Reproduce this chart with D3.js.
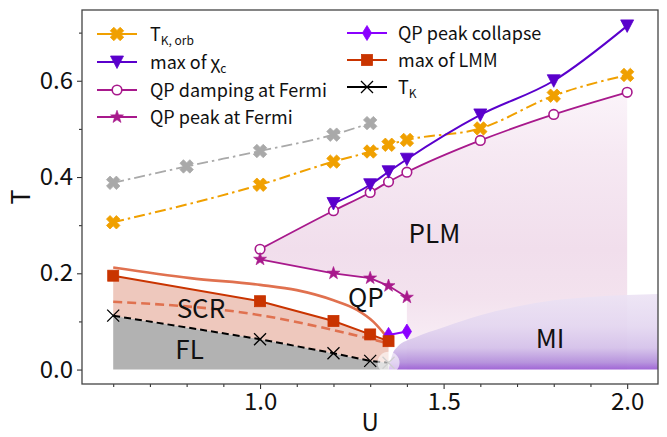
<!DOCTYPE html>
<html>
<head>
<meta charset="utf-8">
<script src="https://cdn.jsdelivr.net/npm/d3@7"></script>
<style>
html, body { margin: 0; padding: 0; background: #fff; }
svg { display: block; font-family: "Noto Sans CJK KR", "Noto Sans", sans-serif; }
</style>
</head>
<body>
<svg id="chart" width="667" height="437"></svg>
<script>
// ---- phase-diagram data (U, T) ----
const U_orbGray = [0.6, 0.8, 1.0, 1.2, 1.3];
const T_orbGray = [0.388, 0.422, 0.454, 0.488, 0.512];

const U_orb = [0.6, 1.0, 1.2, 1.3, 1.35, 1.4, 1.6, 1.8, 2.0];
const T_orb = [0.306, 0.384, 0.432, 0.453, 0.467, 0.477, 0.501, 0.569, 0.612];

const U_chi = [1.2, 1.3, 1.35, 1.4, 1.6, 1.8, 2.0];
const T_chi = [0.345, 0.384, 0.411, 0.437, 0.529, 0.600, 0.714];

const U_damp = [1.0, 1.2, 1.3, 1.35, 1.4, 1.6, 1.8, 2.0];
const T_damp = [0.250, 0.330, 0.368, 0.390, 0.410, 0.476, 0.530, 0.576];

const U_peak = [1.0, 1.2, 1.3, 1.35, 1.4];
const T_peak = [0.229, 0.200, 0.190, 0.174, 0.150];

const U_collapse = [1.35, 1.4];
const T_collapse = [0.072, 0.079];

const U_lmm = [0.6, 1.0, 1.2, 1.3, 1.35];
const T_lmm = [0.195, 0.142, 0.101, 0.073, 0.059];

const U_tk = [0.6, 1.0, 1.2, 1.3, 1.35];
const T_tk = [0.112, 0.063, 0.034, 0.018, 0.014];

// upper edge of the SCR crossover and its midline
const U_scrTop = [0.6, 0.81, 1.0, 1.1, 1.2, 1.264, 1.309, 1.345];
const T_scrTop = [0.212, 0.190, 0.176, 0.165, 0.144, 0.124, 0.099, 0.068];
const U_scrMid = [0.6, 1.0, 1.2, 1.34];
const T_scrMid = [0.141, 0.113, 0.082, 0.056];

// Mott-insulator boundary
const U_mi = [1.35, 1.36, 1.375, 1.42, 1.5, 1.6, 1.7, 1.8, 1.9, 2.0, 2.085];
const T_mi = [0.0, 0.030, 0.048, 0.066, 0.088, 0.113, 0.131, 0.144, 0.151, 0.155, 0.157];

const xTicks = [1.0, 1.5, 2.0];
const yTicks = [0.0, 0.2, 0.4, 0.6];

const regionLabels = [
  { text: "PLM", u: 1.475, t: 0.287 },
  { text: "QP", u: 1.288, t: 0.153 },
  { text: "SCR", u: 0.839, t: 0.130 },
  { text: "FL", u: 0.808, t: 0.045 },
  { text: "MI", u: 1.79, t: 0.068 }
];

// ---- colours ----
const C = {
  orb: "#f0a000", orbGray: "#a9a9a9", chi: "#5a00cc", damp: "#a8198c",
  collapse: "#8a00ff", lmm: "#c93400", scrLine: "#e0714f", tk: "#000000",
  fl: "#b2b2b2", scr: "#eec8bd"
};

const zip = (us, ts) => us.map((u, i) => [u, ts[i]]);

const svg = d3.select("#chart");
const x = d3.scaleLinear().domain([0.515, 2.084]).range([82, 658]);
const y = d3.scaleLinear().domain([-0.030, 0.747]).range([384, 10]);

const defs = svg.append("defs");
defs.append("clipPath").attr("id", "plotClip")
  .append("rect").attr("x", 82).attr("y", 10).attr("width", 576).attr("height", 374);

const plmGrad = defs.append("linearGradient").attr("id", "plmGrad")
  .attr("gradientUnits", "userSpaceOnUse")
  .attr("x1", 0).attr("x2", 0).attr("y1", y(0)).attr("y2", y(0.6));
[[0, "#fbf3f9"], [0.15, "#f3e2ee"], [0.25, "#f1deec"], [0.45, "#f6e9f3"], [0.6, "#fcf6fb"]]
  .forEach(([t, c]) => plmGrad.append("stop").attr("offset", t / 0.6).attr("stop-color", c));

const miGrad = defs.append("linearGradient").attr("id", "miGrad")
  .attr("gradientUnits", "userSpaceOnUse")
  .attr("x1", 0).attr("x2", 0).attr("y1", y(0)).attr("y2", y(0.157));
[[0, "#9656d2"], [0.015, "#b08ada"], [0.045, "#d3bfe9"], [0.09, "#e3d6f0"], [0.157, "#ece3f4"]]
  .forEach(([t, c]) => miGrad.append("stop").attr("offset", t / 0.157).attr("stop-color", c));

const plot = svg.append("g").attr("clip-path", "url(#plotClip)");

const lineLin = d3.line().x(d => x(d[0])).y(d => y(d[1]));
const lineSmooth = d3.line().x(d => x(d[0])).y(d => y(d[1])).curve(d3.curveMonotoneX);

// ---- filled regions ----
// PLM: below the QP-damping line, right of the QP region
const dampPts = zip(U_damp, T_damp);
const peakPts = zip(U_peak, T_peak);
const plmPath = lineSmooth(dampPts) +
  `L${x(2.0)},${y(0)}L${x(1.4)},${y(0)}` +
  lineLin(peakPts.slice().reverse()).replace(/^M/, "L") + "Z";
plot.append("path").attr("d", plmPath).attr("fill", "url(#plmGrad)");

// MI
plot.append("path")
  .attr("d", d3.area().x(d => x(d[0])).y0(y(0)).y1(d => y(d[1])).curve(d3.curveMonotoneX)(zip(U_mi, T_mi)))
  .attr("fill", "url(#miGrad)").attr("opacity", 0.9);

// FL and SCR
const tkPts = zip(U_tk, T_tk);
plot.append("path")
  .attr("d", d3.area().x(d => x(d[0])).y0(y(0)).y1(d => y(d[1]))(tkPts))
  .attr("fill", C.fl);
plot.append("path")
  .attr("d", d3.area().x((d, i) => x(U_tk[i])).y0((d, i) => y(T_tk[i])).y1((d, i) => y(T_lmm[i]))(U_tk))
  .attr("fill", C.scr);

// ---- marker shapes ----
function xFilledPath(r) {
  const w = 0.36;
  const pts = [[-w, -1], [w, -1], [w, -w], [1, -w], [1, w], [w, w], [w, 1], [-w, 1], [-w, w], [-1, w], [-1, -w], [-w, -w]];
  const c = Math.SQRT1_2;
  return "M" + pts.map(([a, b]) => [(a - b) * c * r, (a + b) * c * r].map(v => v.toFixed(2)).join(",")).join("L") + "Z";
}
function starPath(R) {
  const r = R * 0.4, pts = [];
  for (let i = 0; i < 10; i++) {
    const ang = -Math.PI / 2 + i * Math.PI / 5, rr = i % 2 ? r : R;
    pts.push([rr * Math.cos(ang), rr * Math.sin(ang)]);
  }
  return "M" + pts.map(p => p.map(v => v.toFixed(2)).join(",")).join("L") + "Z";
}
const markers = {
  xfill: (g, c) => g.append("path").attr("d", xFilledPath(7)).attr("fill", c).attr("stroke", c).attr("stroke-width", 0.8),
  triDown: (g, c) => g.append("path").attr("d", "M-6.5,-6L6.5,-6L0,6.5Z").attr("fill", c).attr("stroke", c).attr("stroke-width", 0.8),
  circleOpen: (g, c) => g.append("circle").attr("r", 4.8).attr("fill", "#fff").attr("stroke", c).attr("stroke-width", 1.6),
  star: (g, c) => g.append("path").attr("d", starPath(6.8)).attr("fill", c).attr("stroke", c).attr("stroke-width", 0.6),
  diamond: (g, c) => g.append("path").attr("d", "M0,-7.5L4.6,0L0,7.5L-4.6,0Z").attr("fill", c).attr("stroke", c).attr("stroke-width", 0.8),
  square: (g, c) => g.append("rect").attr("x", -5.5).attr("y", -5.5).attr("width", 11).attr("height", 11).attr("fill", c).attr("stroke", c).attr("stroke-width", 0.8),
  xThin: (g, c) => g.append("path").attr("d", "M-6,-6L6,6M-6,6L6,-6").attr("fill", "none").attr("stroke", c).attr("stroke-width", 1.3)
};

function drawSeries(pts, opt) {
  const gen = opt.smooth ? lineSmooth : lineLin;
  plot.append("path").attr("d", gen(pts)).attr("fill", "none")
    .attr("stroke", opt.color).attr("stroke-width", opt.width || 2)
    .attr("stroke-dasharray", opt.dash || null);
  if (opt.marker) {
    pts.forEach(p => {
      const g = plot.append("g").attr("transform", `translate(${x(p[0])},${y(p[1])})`);
      markers[opt.marker](g, opt.color);
    });
  }
}

// SCR boundary curves
drawSeries(zip(U_scrTop, T_scrTop), { color: C.scrLine, width: 2.6, smooth: true });
drawSeries(zip(U_scrMid, T_scrMid), { color: C.scrLine, width: 2.6, smooth: true, dash: "9,5" });

// T_K (last point faded under the crossing spot)
plot.append("path").attr("d", lineLin(tkPts)).attr("fill", "none")
  .attr("stroke", C.tk).attr("stroke-width", 2).attr("stroke-dasharray", "7,4");
tkPts.forEach((p, i) => {
  const g = plot.append("g").attr("transform", `translate(${x(p[0])},${y(p[1])})`);
  markers.xThin(g, i === tkPts.length - 1 ? "#888" : C.tk);
});
plot.append("circle").attr("cx", x(1.35)).attr("cy", y(0.014)).attr("r", 11)
  .attr("fill", "#fff").attr("opacity", 0.6);

drawSeries(zip(U_orbGray, T_orbGray), { color: C.orbGray, width: 1.8, smooth: true, dash: "11,4,2.5,4", marker: "xfill" });
drawSeries(zip(U_orb, T_orb), { color: C.orb, width: 2, smooth: true, dash: "11,4,2.5,4", marker: "xfill" });
drawSeries(dampPts, { color: C.damp, width: 1.8, smooth: true, marker: "circleOpen" });
drawSeries(zip(U_chi, T_chi), { color: C.chi, width: 2, smooth: true, marker: "triDown" });
drawSeries(peakPts, { color: C.damp, width: 1.8, marker: "star" });
drawSeries(zip(U_collapse, T_collapse), { color: C.collapse, width: 2, smooth: true, marker: "diamond" });
drawSeries(zip(U_lmm, T_lmm), { color: C.lmm, width: 2, marker: "square" });

// region names
svg.append("g").selectAll("text").data(regionLabels).join("text")
  .attr("x", d => x(d.u)).attr("y", d => y(d.t))
  .attr("text-anchor", "middle").attr("dominant-baseline", "central")
  .attr("font-size", 26).attr("fill", "#111").text(d => d.text);

// ---- axes ----
const tickColor = "#333";
const xAxis = svg.append("g").attr("transform", "translate(0,384)")
  .call(d3.axisBottom(x).tickValues(xTicks).tickFormat(d3.format(".1f")).tickSize(5).tickPadding(4));
const xMinor = svg.append("g").attr("transform", "translate(0,384)")
  .call(d3.axisBottom(x).tickValues(d3.range(6, 21).map(v => v / 10).filter(v => !xTicks.some(t => Math.abs(t - v) < 1e-9))).tickFormat("").tickSize(3));
const yAxis = svg.append("g").attr("transform", "translate(82,0)")
  .call(d3.axisLeft(y).tickValues(yTicks).tickFormat(d3.format(".1f")).tickSize(5).tickPadding(4));
const yMinor = svg.append("g").attr("transform", "translate(82,0)")
  .call(d3.axisLeft(y).tickValues([0.1, 0.3, 0.5, 0.7]).tickFormat("").tickSize(3));
[xAxis, xMinor, yAxis, yMinor].forEach(a => {
  a.select(".domain").remove();
  a.selectAll("line").attr("stroke", tickColor).attr("stroke-width", 1.1);
  a.selectAll("text").attr("font-size", 24).attr("fill", "#111")
    .attr("font-family", "'Noto Sans CJK KR', 'Noto Sans', sans-serif");
});

svg.append("rect").attr("x", 82).attr("y", 10).attr("width", 576).attr("height", 374)
  .attr("fill", "none").attr("stroke", "#444").attr("stroke-width", 1.3);

svg.append("text").attr("x", x(1.3)).attr("y", 431).attr("text-anchor", "middle")
  .attr("font-size", 24).attr("fill", "#111").text("U");
svg.append("text").attr("transform", `translate(30,${(10 + 384) / 2}) rotate(-90)`)
  .attr("text-anchor", "middle").attr("font-size", 25).attr("fill", "#111").text("T");

// ---- legend ----
const legendItems = [
  { col: 0, row: 0, color: C.orb, marker: "xfill", main: "T", sub: "K, orb" },
  { col: 0, row: 1, color: C.chi, marker: "triDown", main: "max of χ", sub: "c" },
  { col: 0, row: 2, color: C.damp, marker: "circleOpen", main: "QP damping at Fermi" },
  { col: 0, row: 3, color: C.damp, marker: "star", main: "QP peak at Fermi" },
  { col: 1, row: 0, color: C.collapse, marker: "diamond", main: "QP peak collapse" },
  { col: 1, row: 1, color: C.lmm, marker: "square", main: "max of LMM" },
  { col: 1, row: 2, color: C.tk, marker: "xThin", main: "T", sub: "K" }
];
const legCols = [{ x0: 97, tx: 150 }, { x0: 347, tx: 398 }];
const legRows = [[34, 62, 90, 117], [33, 60, 87]];
const legend = svg.append("g");
legendItems.forEach(d => {
  const cx = legCols[d.col].x0, cy = legRows[d.col][d.row];
  const g = legend.append("g");
  g.append("line").attr("x1", cx).attr("x2", cx + 40).attr("y1", cy).attr("y2", cy)
    .attr("stroke", d.color).attr("stroke-width", 2);
  markers[d.marker](g.append("g").attr("transform", `translate(${cx + 20},${cy})`), d.color);
  const t = g.append("text").attr("x", legCols[d.col].tx).attr("y", cy + 6.5)
    .attr("font-size", 18).attr("fill", "#111");
  t.append("tspan").text(d.main);
  if (d.sub) t.append("tspan").attr("dy", 4).attr("font-size", 12).text(d.sub);
});
</script>
</body>
</html>
